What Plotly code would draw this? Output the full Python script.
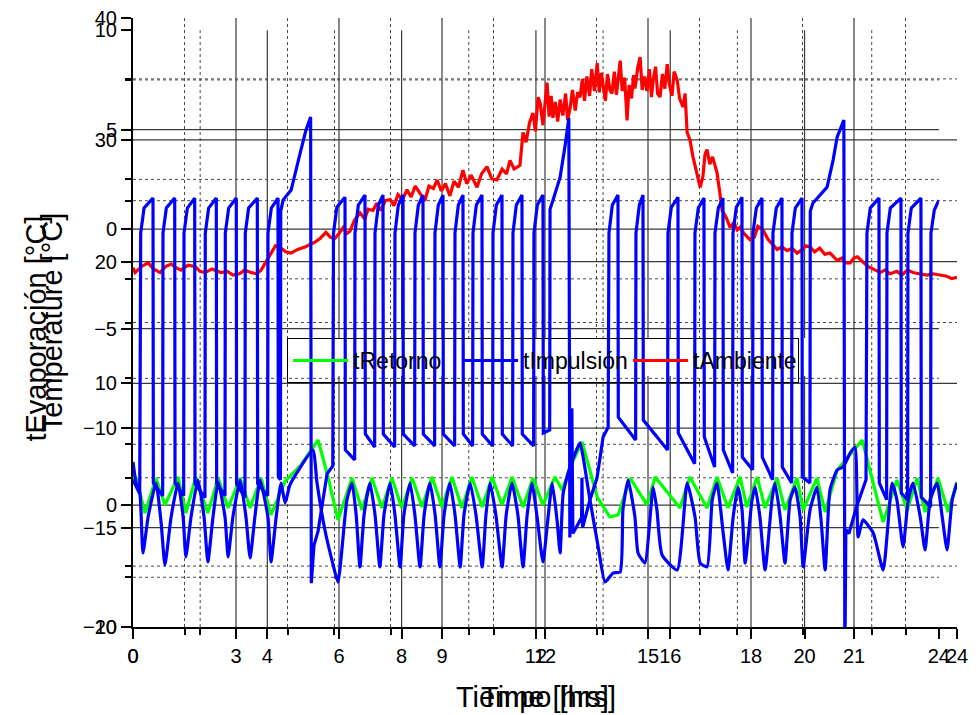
import plotly.graph_objects as go

FONT = "Liberation Sans, Arial, sans-serif"

# ---------------- axis ticks ----------------
time_ticks = [0, 3, 6, 9, 12, 15, 18, 21, 24]
time_minor = [1.5, 4.5, 7.5, 10.5, 13.5, 16.5, 19.5, 22.5]
tiempo_ticks = [0, 4, 8, 12, 16, 20, 24]
tiempo_minor = [2, 6, 10, 14, 18, 22]
temp_ticks = [-10, 0, 10, 20, 30, 40]
temp_minor = [-5, 5, 15, 25, 35]
evap_ticks = [-20, -15, -10, -5, 0, 5, 10]
evap_minor = [-17.5, -12.5, -7.5, -2.5, 2.5, 7.5]

# ---------------- tAmbiente (Temperature axis, Time [hrs]) ----------------
amb_points = [
    (0.00, 19.5), (0.06, 19.1), (0.25, 19.6), (0.44, 19.9), (0.60, 19.4), (0.79, 19.1),
    (0.95, 19.6), (1.11, 19.8), (1.25, 19.5), (1.40, 19.3), (1.60, 19.7), (1.81, 19.6),
    (1.95, 19.2), (2.10, 19.1), (2.30, 19.4), (2.56, 19.1), (2.75, 19.2), (2.91, 18.9),
    (3.10, 19.0), (3.25, 19.3), (3.44, 19.1), (3.60, 19.0), (3.73, 19.3), (3.88, 20.0),
    (4.02, 20.7), (4.15, 21.3), (4.31, 21.1), (4.45, 20.8), (4.60, 20.7), (4.80, 21.0),
    (5.01, 21.2), (5.15, 21.4), (5.30, 21.6), (5.45, 21.9), (5.62, 22.4), (5.75, 22.0),
    (5.88, 21.9), (6.00, 22.3), (6.12, 22.8), (6.22, 22.3), (6.32, 22.5), (6.45, 23.4),
    (6.61, 24.0), (6.75, 23.5), (6.85, 24.3), (6.99, 24.2), (7.10, 24.8), (7.22, 24.2),
    (7.35, 25.0), (7.49, 25.1), (7.60, 24.6), (7.72, 25.5), (7.85, 25.1), (7.98, 25.9),
    (8.10, 25.3), (8.22, 26.2), (8.36, 25.6), (8.50, 25.0), (8.62, 26.2), (8.75, 26.0),
    (8.86, 26.7), (8.98, 25.8), (9.10, 26.4), (9.23, 25.4), (9.35, 26.6), (9.48, 26.1),
    (9.61, 27.5), (9.72, 26.4), (9.85, 27.1), (10.02, 26.1), (10.15, 27.2), (10.31, 27.8),
    (10.45, 26.8), (10.60, 26.7), (10.75, 27.6), (10.88, 27.2), (10.98, 28.3), (11.10, 27.6),
    (11.27, 27.9), (11.36, 30.6), (11.45, 29.8), (11.55, 31.4), (11.65, 32.2), (11.72, 30.7),
    (11.80, 33.5), (11.86, 33.0), (11.94, 31.2), (12.00, 32.8), (12.06, 34.7), (12.12, 31.9),
    (12.18, 33.6), (12.23, 31.8), (12.30, 33.1), (12.37, 31.5), (12.44, 33.3), (12.52, 32.0),
    (12.60, 33.8), (12.66, 31.6), (12.73, 32.6), (12.80, 34.1), (12.88, 32.4), (12.95, 33.9),
    (13.02, 33.5), (13.09, 35.0), (13.15, 33.2), (13.22, 35.2), (13.30, 33.6), (13.36, 35.8),
    (13.44, 34.0), (13.52, 36.3), (13.58, 33.9), (13.64, 35.5), (13.69, 34.7), (13.76, 33.2),
    (13.82, 35.4), (13.89, 34.1), (13.95, 33.8), (14.02, 35.6), (14.08, 33.7), (14.13, 35.0),
    (14.19, 36.5), (14.25, 34.0), (14.32, 35.1), (14.39, 31.6), (14.45, 34.5), (14.52, 33.4),
    (14.58, 35.3), (14.62, 34.2), (14.70, 35.9), (14.77, 36.8), (14.83, 34.1), (14.90, 35.2),
    (14.97, 34.0), (15.04, 35.8), (15.10, 33.5), (15.15, 34.9), (15.22, 36.0), (15.28, 33.8),
    (15.35, 33.5), (15.42, 35.4), (15.49, 34.2), (15.56, 36.2), (15.62, 34.6), (15.70, 33.6),
    (15.76, 35.6), (15.85, 34.9), (15.92, 33.4), (16.02, 32.7), (16.08, 33.8), (16.14, 30.6),
    (16.22, 30.0), (16.31, 28.6), (16.40, 27.4), (16.52, 26.1), (16.60, 27.0), (16.66, 28.8),
    (16.72, 29.2), (16.80, 28.0), (16.88, 28.6), (17.01, 27.3), (17.08, 25.9), (17.16, 24.2),
    (17.28, 23.6), (17.39, 22.8), (17.50, 23.2), (17.60, 22.6), (17.68, 22.8), (17.80, 22.3),
    (17.97, 21.8), (18.10, 22.0), (18.20, 22.9), (18.35, 22.6), (18.50, 21.8), (18.60, 21.5),
    (18.76, 21.0), (18.90, 21.2), (19.05, 20.9), (19.20, 21.1), (19.34, 20.7), (19.50, 21.0),
    (19.60, 21.3), (19.72, 21.2), (19.85, 20.8), (20.00, 21.1), (20.15, 20.6), (20.30, 20.7),
    (20.40, 20.4), (20.51, 20.1), (20.65, 20.3), (20.75, 19.9), (20.89, 19.9), (21.00, 20.3),
    (21.10, 20.4), (21.26, 20.0), (21.40, 19.6), (21.55, 19.4), (21.76, 19.1), (21.90, 19.3),
    (22.05, 19.0), (22.25, 19.2), (22.40, 18.9), (22.55, 19.3), (22.72, 19.1), (22.90, 19.0),
    (23.13, 18.9), (23.30, 19.0), (23.51, 18.9), (23.70, 18.8), (23.85, 18.6), (24.00, 18.7),
]

# ---------------- tRetorno (Temperature axis, Time [hrs]) ----------------
ret_points = [
    (0.00, 2.23), (0.09, 2.23), (0.35, -0.64), (0.67, 2.23), (0.93, 0.02), (1.31, 2.32),
    (1.54, -0.64), (1.83, 2.32), (2.18, -0.64), (2.48, 2.23), (2.77, -0.23), (3.12, 2.23),
    (3.41, -0.23), (3.73, 2.23), (4.02, -0.80), (4.43, 1.98), (4.89, 3.30), (5.39, 5.35),
    (5.68, 2.32), (5.97, -1.21), (6.38, 2.23), (6.67, -0.39), (6.96, 2.23), (7.25, -0.23),
    (7.54, 2.23), (7.83, -0.23), (8.13, 2.23), (8.42, -0.15), (8.71, 2.32), (9.00, -0.15),
    (9.29, 2.32), (9.58, -0.23), (9.87, 2.32), (10.17, -0.15), (10.46, 2.32), (10.75, 0.02),
    (11.04, 2.32), (11.36, -0.15), (11.65, 2.23), (11.94, 0.02), (12.29, 2.32), (12.50, 1.25),
    (12.73, 3.14), (13.08, 5.19), (13.52, 0.67), (13.89, -0.97), (14.13, -0.80), (14.48, 2.23),
    (14.97, 0.02), (15.21, 2.32), (15.93, -0.23), (16.22, 2.32), (16.72, -0.23), (17.01, 2.32),
    (17.33, -0.23), (17.68, 2.32), (17.88, -0.15), (18.18, 2.32), (18.41, -0.23), (18.76, 2.23),
    (18.99, -0.39), (19.34, 2.23), (19.52, -0.39), (19.92, 2.23), (20.16, -0.56), (20.51, 2.89),
    (21.24, 5.35), (21.85, -1.38), (22.25, 2.07), (22.55, -0.39), (22.84, 2.23), (23.07, -0.56),
    (23.45, 2.23), (23.74, -0.56), (24.00, 1.90),
]

# ---------------- tImpulsión (Temperature axis, Time [hrs]) ----------------
imp_points = [
    (0.00, 3.55), (0.09, 1.82), (0.20, 1.00), (0.29, -3.92), (0.44, -0.97), (0.67, 1.82),
    (0.82, -1.46), (0.93, -4.91), (1.11, -0.97), (1.31, 1.82), (1.46, -0.97), (1.54, -4.25),
    (1.69, -0.97), (1.89, 2.07), (2.07, -0.97), (2.18, -4.66), (2.33, -0.97), (2.48, 1.90),
    (2.68, -0.97), (2.77, -4.25), (2.91, -0.97), (3.12, 2.07), (3.29, -0.97), (3.41, -4.33),
    (3.55, -0.97), (3.70, 2.07), (3.93, -0.97), (4.02, -4.66), (4.17, -0.97), (4.31, 1.82),
    (4.43, 0.18), (4.57, 1.66), (4.86, 3.05), (5.24, 4.53), (5.36, 1.82), (5.59, -2.04),
    (5.83, -4.91), (5.97, -6.31), (6.23, 0.43), (6.38, 1.82),
    (6.50, -0.80), (6.61, -5.07), (6.73, -0.80), (6.90, 1.82),
    (7.05, -0.80), (7.19, -5.07), (7.31, -0.80), (7.49, 1.82),
    (7.63, -0.80), (7.78, -5.07), (7.89, -0.80), (8.07, 1.82),
    (8.21, -0.80), (8.36, -5.07), (8.48, -0.80), (8.65, 1.82),
    (8.80, -0.80), (8.94, -5.07), (9.06, -0.80), (9.23, 1.82),
    (9.38, -0.80), (9.53, -5.07), (9.64, -0.80), (9.82, 1.82),
    (9.99, -0.80), (10.17, -5.07), (10.28, -0.80), (10.40, 1.82),
    (10.57, -0.80), (10.75, -5.07), (10.87, -0.80), (11.04, 1.82),
    (11.21, -0.80), (11.36, -5.07), (11.48, -0.80), (11.62, 1.82),
    (11.77, -0.97), (11.94, -4.66), (12.09, -0.97), (12.21, 1.82), (12.35, -1.21), (12.44, -3.92),
    (12.53, 1.00), (12.73, 3.14), (13.02, 5.11), (13.11, 3.96), (13.31, 0.43), (13.55, -3.43),
    (13.75, -6.31), (13.98, -5.57), (14.19, -5.48), (14.27, -0.39), (14.42, 2.07), (14.62, -0.97),
    (14.71, -3.92), (14.91, -4.75), (15.15, 1.49), (15.26, -0.39), (15.41, -4.09), (15.85, -5.32),
    (16.14, 1.82), (16.37, -0.97), (16.52, -4.75), (16.72, -5.07), (16.87, 0.43), (17.01, 1.82),
    (17.19, -2.28), (17.33, -5.32), (17.48, -0.97), (17.62, 1.49), (17.74, -0.39), (17.83, -4.75),
    (18.03, 0.43), (18.12, 1.49), (18.26, -0.97), (18.41, -5.32), (18.61, 0.43), (18.70, 1.82),
    (18.85, -0.97), (18.99, -4.75), (19.14, 0.43), (19.28, 1.49), (19.43, -0.97), (19.52, -5.07),
    (19.72, -0.39), (19.92, 1.49), (20.04, -1.21), (20.16, -5.32), (20.30, 1.25), (20.51, 2.89),
    (20.68, 3.14), (20.89, 4.29), (21.03, 4.78), (21.12, -2.61), (21.26, -1.21), (21.56, -2.28),
    (21.85, -5.32), (22.11, 1.82), (22.25, 0.43), (22.43, -3.43), (22.58, 0.43), (22.72, 1.82),
    (22.93, -0.97), (23.07, -3.68), (23.22, 0.43), (23.42, 1.82), (23.57, -0.97), (23.71, -3.68),
    (23.86, 0.43), (24.00, 1.82),
]

# ---------------- tEvaporación (second axis, Tiempo [hrs]) ----------------
# compressor cycles: (rise time, drop time, top value, value after drop, value before next rise)
# "seg" blocks are read point by point (start, defrost periods)
evap_blocks = [
    ("seg", [(0.00, -12.6), (0.20, -13.3)]),
    ("cyc", 0.229, 0.596, 1.56, -12.76, -13.4),
    ("cyc", 0.893, 1.242, 1.56, -12.76, -13.4),
    ("cyc", 1.519, 1.837, 1.56, -12.8, -13.5),
    ("cyc", 2.153, 2.481, 1.56, -12.8, -13.4),
    ("cyc", 2.749, 3.076, 1.56, -12.8, -13.5),
    ("cyc", 3.344, 3.702, 1.56, -12.8, -13.4),
    ("cyc", 4.020, 4.318, 1.56, -12.46, -12.6),
    ("seg", [(4.40, 0.9), (4.47, 1.46), (4.71, 1.96), (5.00, 3.97), (5.15, 4.97), (5.29, 5.63),
             (5.31, -17.8), (5.39, -15.9), (5.51, -15.2), (5.78, -12.3), (5.95, -11.9)]),
    ("cyc", 5.971, 6.314, 1.6, -11.1, -11.6),
    ("cyc", 6.611, 6.909, 1.71, -10.3, -10.95),
    ("cyc", 7.207, 7.445, 1.71, -10.3, -10.95),
    ("cyc", 7.802, 8.041, 1.71, -10.3, -10.9),
    ("cyc", 8.398, 8.636, 1.71, -10.3, -10.9),
    ("cyc", 8.993, 9.232, 1.71, -10.3, -10.9),
    ("cyc", 9.589, 9.827, 1.71, -10.3, -10.9),
    ("cyc", 10.125, 10.393, 1.71, -10.3, -10.9),
    ("cyc", 10.721, 10.989, 1.71, -10.3, -10.9),
    ("cyc", 11.316, 11.584, 1.71, -10.3, -10.9),
    ("cyc", 11.941, 12.210, 1.71, -10.25, -10.1),
    ("seg", [(12.42, 1.0), (12.51, 1.46), (12.72, 2.61), (12.87, 4.22), (12.98, 5.58),
             (13.01, -15.5), (13.07, -9.0), (13.10, -15.3), (13.36, -14.5), (13.37, -12.5),
             (13.39, -15.0), (13.61, -13.6), (13.82, -12.5), (14.00, -10.45), (14.15, -9.96)]),
    ("cyc", 14.175, 14.443, 1.71, -9.45, -10.6),
    ("cyc", 14.979, 15.188, 1.71, -9.6, -11.1),
    ("cyc", 15.932, 16.230, 1.6, -10.25, -11.8),
    ("cyc", 16.736, 17.004, 1.56, -10.45, -11.96),
    ("cyc", 17.332, 17.570, 1.56, -11.1, -12.26),
    ("cyc", 17.868, 18.136, 1.6, -11.46, -12.1),
    ("cyc", 18.463, 18.731, 1.56, -11.46, -12.6),
    ("cyc", 19.059, 19.327, 1.56, -11.96, -12.76),
    ("cyc", 19.625, 19.923, 1.56, -12.46, -12.76),
    ("seg", [(20.17, 0.9), (20.25, 1.31), (20.67, 2.11), (20.85, 3.47), (20.97, 4.62), (21.17, 5.48),
             (21.20, -22.0), (21.23, -15.1), (21.32, -15.3), (21.56, -13.9), (21.83, -12.6)]),
    ("cyc", 21.858, 22.216, 1.56, -12.76, -13.6),
    ("cyc", 22.454, 22.871, 1.56, -13.27, -13.6),
    ("cyc", 23.079, 23.466, 1.56, -13.47, -13.97),
    ("cyc", 23.764, None, 1.46, None, None),
]


def block_start(b):
    return b[1][0][0] if b[0] == "seg" else b[1]


def build_evap(blocks):
    pts = []
    for i, b in enumerate(blocks):
        nxt = block_start(blocks[i + 1]) if i + 1 < len(blocks) else 24.0
        if b[0] == "seg":
            pts.extend(b[1])
            continue
        _, rise, drop, top, lo1, lo2 = b
        pts.append((rise, -0.2))
        pts.append((rise + 0.1, top - 0.5))
        if drop is None:
            pts.append((nxt, top))
            continue
        pts.append((drop, top))
        pts.append((drop + 0.01, lo1))
        pts.append((nxt - 0.01, lo2))
    return pts


evap_points = build_evap(evap_blocks)


def xs(p):
    return [a for a, _ in p]


def ys(p):
    return [b for _, b in p]


GREEN = "#00FF00"
BLUE = "#0000FF"
RED = "#FF0000"
LW = 3.2

fig = go.Figure()
fig.add_trace(go.Scatter(x=xs(ret_points), y=ys(ret_points), mode="lines", name="tRetorno",
                         line=dict(color=GREEN, width=LW), xaxis="x", yaxis="y"))
fig.add_trace(go.Scatter(x=xs(imp_points), y=ys(imp_points), mode="lines", name="tImpulsión",
                         line=dict(color=BLUE, width=LW, shape="spline", smoothing=0.5),
                         xaxis="x", yaxis="y"))
fig.add_trace(go.Scatter(x=xs(amb_points), y=ys(amb_points), mode="lines", name="tAmbiente",
                         line=dict(color=RED, width=LW), xaxis="x", yaxis="y"))
fig.add_trace(go.Scatter(x=xs(evap_points), y=ys(evap_points), mode="lines", name="tEvaporación",
                         line=dict(color=BLUE, width=LW), xaxis="x2", yaxis="y2", showlegend=False))

# geometry of the two overlaid plot frames (paper fractions)
EVAP_X_END = 0.978
EVAP_Y_END = 0.980

MAJOR = dict(color="#3a3a3a", width=1.2)
MINOR = dict(color="#4a4a4a", width=1, dash="dot")

shapes = []


def vlines(vals, xref, ytop, style, skip):
    for v in vals:
        if v in skip:
            continue
        shapes.append(dict(type="line", xref=xref, yref="paper", x0=v, x1=v, y0=0, y1=ytop,
                           layer="below", line=style))


def hlines(vals, yref, xend, style, skip):
    for v in vals:
        if v in skip:
            continue
        shapes.append(dict(type="line", xref="paper", yref=yref, x0=0, x1=xend, y0=v, y1=v,
                           layer="below", line=style))


vlines(time_ticks, "x", 1.0, MAJOR, (0, 24))
vlines(time_minor, "x", 1.0, MINOR, ())
hlines(temp_ticks, "y", 1.0, MAJOR, (-10, 40))
hlines(temp_minor, "y", 1.0, MINOR, ())
vlines(tiempo_ticks, "x2", EVAP_Y_END, MAJOR, (0, 24))
vlines(tiempo_minor, "x2", EVAP_Y_END, MINOR, ())
hlines(evap_ticks, "y2", EVAP_X_END, MAJOR, (-20, 10))
hlines(evap_minor, "y2", EVAP_X_END, MINOR, ())

# white legend panel (under the data lines, above the grid)
LEG_X0, LEG_X1, LEG_Y0, LEG_Y1 = 0.187, 0.829, 0.412, 0.4745
shapes.append(dict(type="rect", xref="paper", yref="paper", x0=LEG_X0, x1=LEG_X1, y0=LEG_Y0, y1=LEG_Y1,
                   layer="below", fillcolor="white", line=dict(width=0)))

TICKFONT = dict(family=FONT, size=20, color="black")
TITLEFONT = dict(family=FONT, size=29, color="black")


def axis(**kw):
    base = dict(showgrid=False, zeroline=False, showline=True, linecolor="black", linewidth=2,
                ticks="outside", ticklen=10, tickwidth=2, tickcolor="black", tickfont=TICKFONT,
                automargin=False)
    base.update(kw)
    return base


fig.update_layout(
    width=978, height=715,
    margin=dict(l=133, r=21, t=18, b=88),
    paper_bgcolor="white", plot_bgcolor="rgba(0,0,0,0)",
    font=dict(family=FONT, color="black"),
    showlegend=True,
    legend=dict(orientation="h", x=LEG_X0, y=LEG_Y1, xanchor="left", yanchor="top",
                bgcolor="rgba(0,0,0,0)", bordercolor="black", borderwidth=1,
                font=dict(family=FONT, size=23, color="black"), itemwidth=55,
                entrywidth=100, entrywidthmode="pixels"),
    xaxis=axis(domain=[0, 1], range=[0, 24], anchor="y", tickmode="array", tickvals=time_ticks,
               minor=dict(tickmode="array", tickvals=time_minor, ticks="outside", ticklen=6,
                          tickwidth=1.5, tickcolor="black", showgrid=False),
               title=dict(text="Time [hrs]", font=TITLEFONT, standoff=21)),
    yaxis=axis(domain=[0, 1], range=[-10, 40], anchor="x", tickmode="array", tickvals=temp_ticks,
               minor=dict(tickmode="array", tickvals=temp_minor, ticks="outside", ticklen=6,
                          tickwidth=1.5, tickcolor="black", showgrid=False),
               title=dict(text="Temperature [°C]", font=TITLEFONT, standoff=12)),
    xaxis2=axis(domain=[0, EVAP_X_END], range=[0, 24], anchor="y2", tickmode="array",
                tickvals=tiempo_ticks,
                minor=dict(tickmode="array", tickvals=tiempo_minor, ticks="outside", ticklen=6,
                           tickwidth=1.5, tickcolor="black", showgrid=False),
                title=dict(text="Tiempo [hrs]", font=TITLEFONT, standoff=21)),
    yaxis2=axis(domain=[0, EVAP_Y_END], range=[-20, 10], anchor="x2", tickmode="array",
                tickvals=evap_ticks,
                minor=dict(tickmode="array", tickvals=evap_minor, ticks="outside", ticklen=6,
                           tickwidth=1.5, tickcolor="black", showgrid=False),
                title=dict(text="tEvaporación [°C]", font=TITLEFONT, standoff=28)),
    shapes=shapes,
)

fig.write_html("out.html")
